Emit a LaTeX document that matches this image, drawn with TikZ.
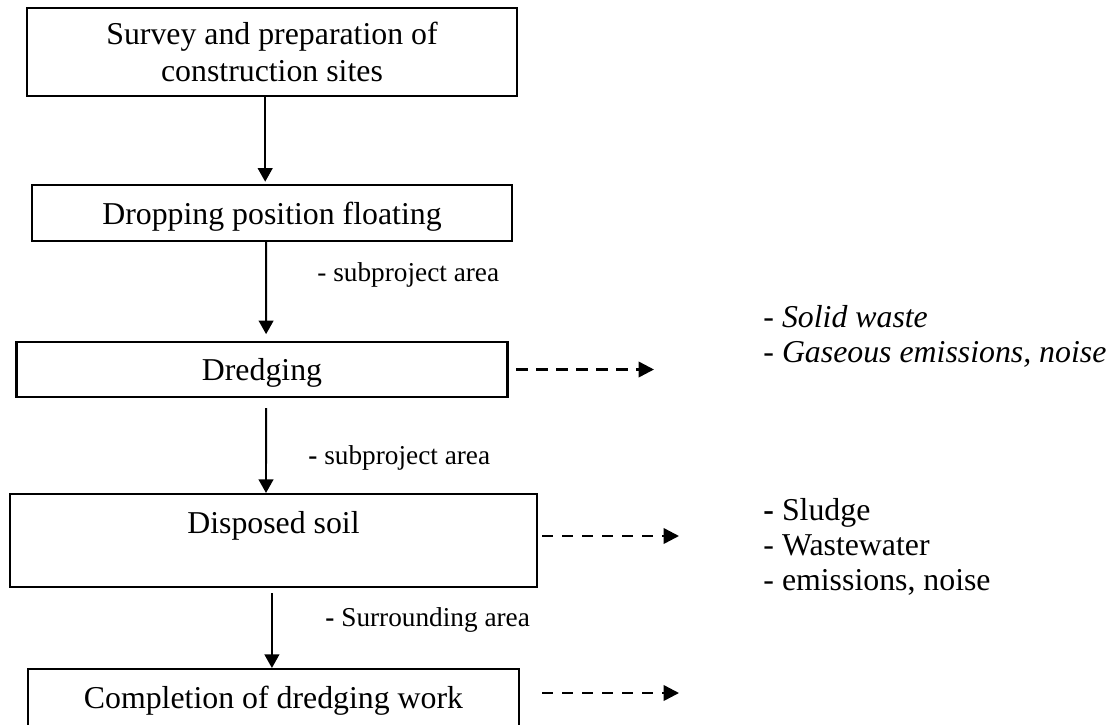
\documentclass[tikz,border=0pt]{standalone}
\usepackage{fontspec}
\setmainfont{Liberation Serif}
\usetikzlibrary{arrows.meta}
\begin{document}
\begin{tikzpicture}[x=0.44pt,y=-0.44pt,
    stage/.style={draw,line width=0.9pt,align=center,inner sep=0pt,text depth=0pt,
        font=\fontsize{14}{16.3}\selectfont},
    flow/.style={line width=0.85pt,-{Triangle[length=6pt,width=6.5pt]}},
    effect/.style={line width=1.1pt,dash pattern=on 5pt off 3.8pt,
        -{Triangle[length=6.8pt,width=6.8pt]}},
    area/.style={anchor=base west,inner sep=0pt,font=\fontsize{12}{14}\selectfont},
    impact/.style={anchor=base west,inner sep=0pt,font=\fontsize{14}{16}\selectfont}]
        \clip (0,0) rectangle (1112,724);
        % stages
        \node[stage,minimum width=490*0.44pt,minimum height=88*0.44pt] (survey) at (272,52) {Survey and preparation of\\construction sites};
        \node[stage,minimum width=480*0.44pt,minimum height=56*0.44pt] (drop) at (272,213) {Dropping position floating};
        \node[stage,minimum width=491*0.44pt,minimum height=55*0.44pt] (dredge) at (262,369.5) {Dredging};
        \node[stage,minimum width=527*0.44pt,minimum height=93*0.44pt] (soil) at (273.5,540.5) {Disposed soil\\\mbox{}};
        \node[stage,minimum width=491*0.44pt,minimum height=57*0.44pt] (finish) at (273.5,697.5) {Completion of dredging work};
        % flow between stages
        \draw[flow,shorten >=1pt] ([xshift=-3pt]survey.south) -- ([xshift=-3pt]drop.north);
        \draw[flow,shorten >=3pt] ([xshift=-2.6pt]drop.south) -- ([xshift=1.8pt]dredge.north);
        \draw[flow,shorten <=4.4pt] ([xshift=1.8pt]dredge.south) -- ([xshift=-3.3pt]soil.north);
        \draw[flow,shorten <=2.2pt] ([xshift=-0.7pt]soil.south) -- ([xshift=-0.7pt]finish.north);
        \node[area] (lab1) at (317,281) {- subproject area};
        \node[area] (lab2) at (308,464) {\textbf{-} subproject area};
        \node[area] (lab3) at (325,626) {\textbf{-} Surrounding area};
        % impacts
        \coordinate (e1) at (654,369);
        \coordinate (e2) at (679,536);
        \coordinate (e3) at (679,693);
        \draw[effect] ([xshift=3.5pt]dredge.east) -- (dredge.east -| e1);
        \draw[effect] ([xshift=1.8pt]soil.east |- e2) -- (e2);
        \draw[effect] ([xshift=9.7pt]finish.east |- e3) -- (e3);
        \node[impact] (solid) at (763,327) {\itshape - Solid waste};
        \node[impact] (gas) at (763,362) {\itshape - Gaseous emissions, noise};
        \node[impact] (sludge) at (763,520) {\textbf{-} Sludge};
        \node[impact] (water) at (763,555) {- Wastewater};
        \node[impact] (noise) at (763,590) {- emissions, noise};
\end{tikzpicture}
\end{document}
